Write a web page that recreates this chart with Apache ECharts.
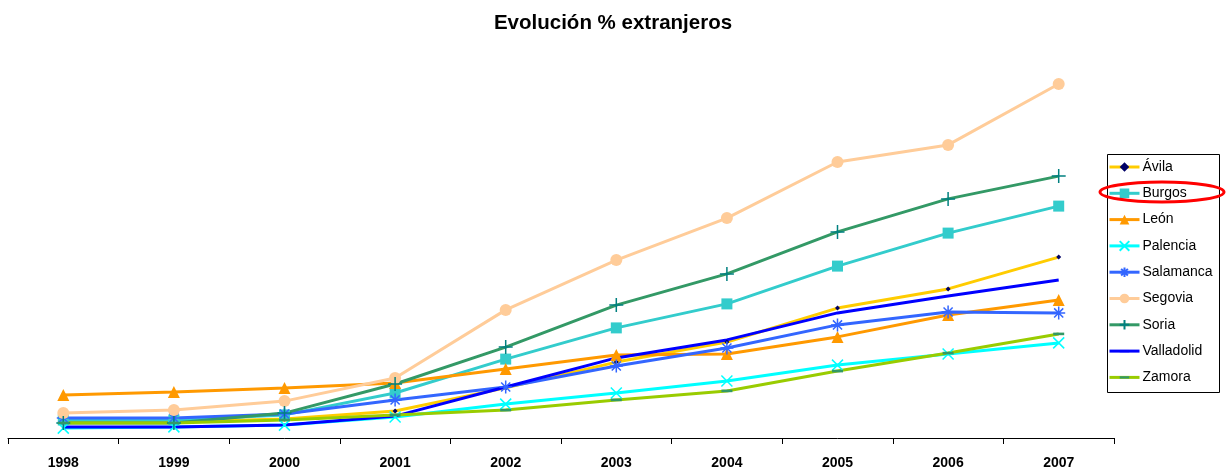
<!DOCTYPE html>
<html>
<head>
<meta charset="utf-8">
<script src="https://cdn.jsdelivr.net/npm/echarts@6/dist/echarts.min.js"></script>
<style>
html,body{margin:0;padding:0;background:#fff;}
#chart{width:1226px;height:473px;}
</style>
</head>
<body>
<div id="chart"></div>
<script>
const years = ['1998','1999','2000','2001','2002','2003','2004','2005','2006','2007'];
const avila      = [0.53,0.53,0.63,0.90,1.67,2.53,3.20,4.33,4.97,6.03];
const burgos     = [0.60,0.60,0.77,1.50,2.63,3.67,4.47,5.73,6.83,7.73];
const leon       = [1.43,1.53,1.67,1.83,2.30,2.77,2.80,3.37,4.10,4.60];
const palencia   = [0.33,0.37,0.43,0.70,1.13,1.50,1.90,2.43,2.80,3.17];
const salamanca  = [0.67,0.67,0.80,1.27,1.70,2.40,3.00,3.77,4.20,4.17];
const segovia    = [0.83,0.93,1.23,2.00,4.27,5.93,7.33,9.20,9.77,11.80];
const soria      = [0.50,0.50,0.83,1.80,3.03,4.43,5.47,6.87,7.97,8.73];
const valladolid = [0.37,0.37,0.43,0.73,1.70,2.67,3.27,4.17,4.73,5.27];
const zamora     = [0.50,0.50,0.60,0.77,0.93,1.27,1.57,2.23,2.83,3.47];

const P_X = 'path://M0,0L10,10M10,0L0,10';
const P_AST = 'path://M5,0L5,10M0,5L10,5M1.5,1.5L8.5,8.5M8.5,1.5L1.5,8.5';
const P_PLUS = 'path://M5,0L5,10M1.5,5L8.5,5';
const P_DASH = 'path://M0,0L0,0M0,4.2L10,4.2L10,6.8L0,6.8ZM10,11L10,11';

function mk(name, data, lineColor, symbol, size, fill, stroke, bw, show) {
  return {
    name: name, type: 'line', data: data,
    symbol: symbol, symbolSize: size, showSymbol: show !== false,
    lineStyle: {color: lineColor, width: 3},
    itemStyle: {color: fill, borderColor: stroke || fill, borderWidth: bw || 0},
    emphasis: {disabled: true},
    animation: false
  };
}

const series = [
  mk('Ávila', avila, '#FFCC00', 'diamond', 5, '#000066'),
  mk('Burgos', burgos, '#33CCCC', 'rect', 11, '#33CCCC'),
  mk('León', leon, '#FF9900', 'triangle', 12, '#FF9900'),
  mk('Palencia', palencia, '#00FFFF', P_X, 11, '#00FFFF', '#00FFFF', 1.5),
  mk('Salamanca', salamanca, '#3366FF', P_AST, 13, '#3366FF', '#3366FF', 1.5),
  mk('Segovia', segovia, '#FFCC99', 'circle', 12, '#FFCC99'),
  mk('Soria', soria, '#339966', P_PLUS, 14, '#008080', '#008080', 1.5),
  mk('Valladolid', valladolid, '#0000FF', P_DASH, 10, '#0000FF', '#0000FF', 0, false),
  mk('Zamora', zamora, '#99CC00', P_DASH, 11, '#339966')
];

const chart = echarts.init(document.getElementById('chart'), null, {renderer: 'canvas'});
chart.setOption({
  backgroundColor: '#fff',
  animation: false,
  title: {
    text: 'Evolución % extranjeros', left: 'center', top: 8,
    textStyle: {fontFamily: 'Liberation Sans, Arial', fontWeight: 'bold', fontSize: 20.5, color: '#000'}
  },
  grid: {left: 8, right: 112, top: 60, bottom: 35, containLabel: false},
  xAxis: {
    type: 'category', data: years, boundaryGap: true,
    axisLine: {lineStyle: {color: '#000', width: 1}},
    axisTick: {show: true, length: 6, lineStyle: {color: '#000'}},
    axisLabel: {margin: 18, fontFamily: 'Liberation Sans, Arial', fontWeight: 'bold', fontSize: 14, color: '#000'},
    splitLine: {show: false}
  },
  yAxis: {
    type: 'value', min: 0, max: 12.6, show: false, splitLine: {show: false}
  },
  legend: {
    orient: 'vertical', left: 1105, top: 152,
    padding: [8, 3, 6, 3],
    itemWidth: 30, itemHeight: 12, itemGap: 12.3,
    lineStyle: {width: 3},
    textStyle: {fontFamily: 'Liberation Sans, Arial', fontSize: 14, lineHeight: 14, color: '#000', padding: [0,0,0,-2]},
    data: series.map(s => s.name)
  },
  graphic: [
    {type: 'rect', left: 1105, top: 152, shape: {x: 0, y: 0, width: 112, height: 238}, style: {fill: 'none', stroke: '#000', lineWidth: 1}, z: 100},
    {type: 'ellipse', shape: {cx: 1162, cy: 192, rx: 62, ry: 10}, style: {fill: 'none', stroke: '#FF0000', lineWidth: 3}, z: 101}
  ],
  series: series
});
</script>
</body>
</html>
